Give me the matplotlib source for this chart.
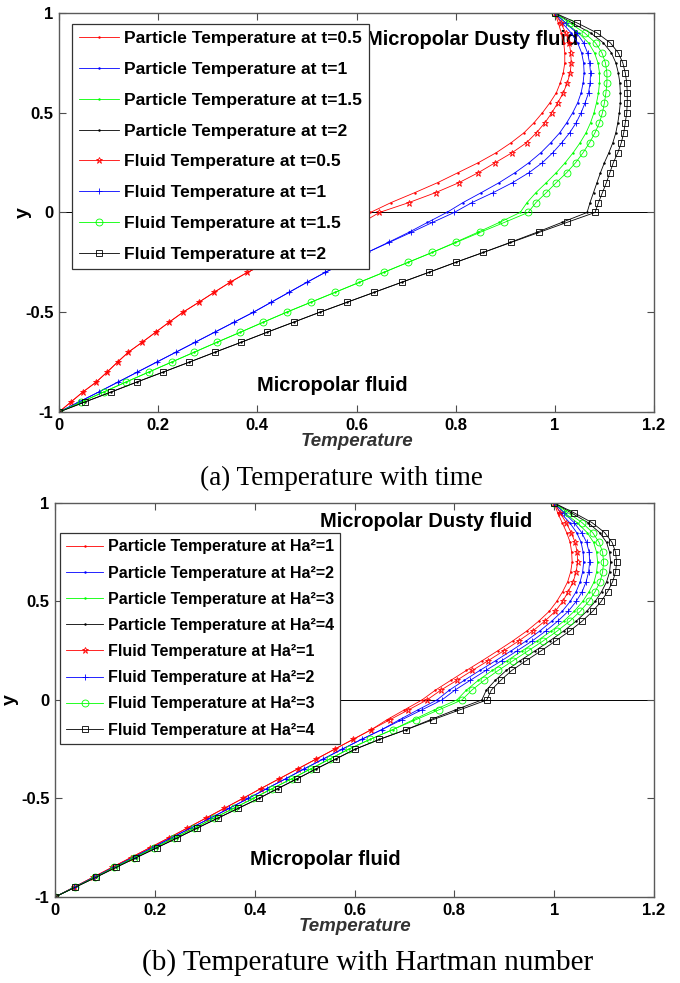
# temperature profiles in the micropolar / micropolar dusty fluid channel
import matplotlib
matplotlib.use('Agg')
import matplotlib.pyplot as plt

# y positions where the temperatures were read (same grid for every curve)
y_pos = [-1.0, -0.95, -0.9, -0.85, -0.8, -0.75, -0.7, -0.65, -0.6, -0.55,
         -0.5, -0.45, -0.4, -0.35, -0.3, -0.25, -0.2, -0.15, -0.1, -0.05,
         0.0, 0.05, 0.1, 0.15, 0.2, 0.25, 0.3, 0.35, 0.4, 0.45,
         0.5, 0.55, 0.6, 0.65, 0.7, 0.75, 0.8, 0.85, 0.9, 0.95, 1.0]

# (a) temperature with time
time_labels = ['0.5', '1', '1.5', '2']
fluid_t05 = [0, 0.024, 0.048, 0.075, 0.097, 0.118, 0.140, 0.168, 0.195, 0.222,
             0.250, 0.282, 0.313, 0.345, 0.380, 0.422, 0.468, 0.518, 0.568, 0.612,
             0.646, 0.706, 0.760, 0.807, 0.846, 0.880, 0.914, 0.943, 0.963, 0.980,
             0.994, 1.006, 1.017, 1.025, 1.031, 1.033, 1.032, 1.029, 1.022, 1.012, 1.000]
fluid_t1 = [0, 0.040, 0.080, 0.119, 0.158, 0.197, 0.236, 0.275, 0.314, 0.353,
            0.392, 0.428, 0.464, 0.500, 0.537, 0.578, 0.622, 0.666, 0.710, 0.753,
            0.797, 0.833, 0.876, 0.915, 0.948, 0.975, 0.996, 1.014, 1.030, 1.043,
            1.053, 1.061, 1.068, 1.071, 1.072, 1.070, 1.066, 1.058, 1.044, 1.022, 1.000]
fluid_t15 = [0, 0.045, 0.090, 0.135, 0.181, 0.227, 0.273, 0.319, 0.366, 0.412,
             0.459, 0.508, 0.557, 0.606, 0.655, 0.704, 0.753, 0.801, 0.849, 0.898,
             0.946, 0.962, 0.983, 1.003, 1.024, 1.042, 1.057, 1.070, 1.081, 1.090,
             1.096, 1.100, 1.103, 1.105, 1.105, 1.102, 1.095, 1.082, 1.060, 1.030, 1.000]
fluid_t2 = [0, 0.052, 0.105, 0.157, 0.210, 0.263, 0.315, 0.368, 0.420, 0.473,
            0.526, 0.581, 0.636, 0.691, 0.746, 0.800, 0.856, 0.912, 0.968, 1.024,
            1.081, 1.088, 1.096, 1.104, 1.111, 1.118, 1.127, 1.134, 1.139, 1.142,
            1.145, 1.146, 1.146, 1.145, 1.142, 1.137, 1.128, 1.112, 1.085, 1.045, 1.000]
particle_t05 = [0, 0.024, 0.048, 0.075, 0.097, 0.118, 0.140, 0.168, 0.195, 0.222,
                0.250, 0.282, 0.313, 0.345, 0.380, 0.422, 0.468, 0.516, 0.563, 0.602,
                0.628, 0.670, 0.718, 0.764, 0.805, 0.846, 0.882, 0.912, 0.938, 0.958,
                0.975, 0.990, 1.003, 1.011, 1.017, 1.020, 1.020, 1.018, 1.013, 1.007, 1.000]
particle_t1 = [0, 0.040, 0.080, 0.119, 0.158, 0.197, 0.236, 0.275, 0.314, 0.353,
               0.392, 0.428, 0.464, 0.500, 0.537, 0.578, 0.622, 0.664, 0.705, 0.743,
               0.782, 0.815, 0.852, 0.888, 0.920, 0.948, 0.972, 0.992, 1.010, 1.024,
               1.036, 1.046, 1.053, 1.057, 1.059, 1.058, 1.054, 1.046, 1.033, 1.015, 1.000]
particle_t15 = [0, 0.045, 0.090, 0.135, 0.181, 0.227, 0.273, 0.319, 0.366, 0.412,
                0.459, 0.508, 0.557, 0.606, 0.655, 0.704, 0.753, 0.799, 0.844, 0.888,
                0.930, 0.944, 0.962, 0.983, 1.003, 1.021, 1.037, 1.051, 1.063, 1.072,
                1.079, 1.084, 1.088, 1.090, 1.090, 1.087, 1.080, 1.068, 1.048, 1.022, 1.000]
particle_t2 = [0, 0.052, 0.105, 0.157, 0.210, 0.263, 0.315, 0.368, 0.420, 0.473,
               0.526, 0.581, 0.636, 0.691, 0.746, 0.800, 0.856, 0.910, 0.963, 1.014,
               1.065, 1.071, 1.078, 1.085, 1.092, 1.100, 1.109, 1.117, 1.123, 1.127,
               1.130, 1.132, 1.132, 1.131, 1.128, 1.123, 1.114, 1.098, 1.072, 1.035, 1.000]

# (b) temperature with Hartmann number
ha_labels = ['1', '2', '3', '4']
fluid_ha1 = [0, 0.038, 0.076, 0.114, 0.152, 0.190, 0.228, 0.265, 0.302, 0.339,
             0.376, 0.412, 0.449, 0.486, 0.523, 0.560, 0.597, 0.634, 0.671, 0.708,
             0.745, 0.773, 0.805, 0.836, 0.868, 0.899, 0.929, 0.957, 0.981, 1.002,
             1.017, 1.028, 1.038, 1.044, 1.047, 1.046, 1.042, 1.034, 1.024, 1.012, 1.000]
fluid_ha2 = [0, 0.039, 0.078, 0.117, 0.156, 0.195, 0.233, 0.272, 0.311, 0.349,
             0.387, 0.424, 0.462, 0.499, 0.537, 0.575, 0.614, 0.655, 0.695, 0.735,
             0.775, 0.801, 0.832, 0.863, 0.895, 0.926, 0.956, 0.983, 1.007, 1.028,
             1.044, 1.056, 1.064, 1.069, 1.071, 1.070, 1.065, 1.055, 1.040, 1.020, 1.000]
fluid_ha3 = [0, 0.040, 0.080, 0.119, 0.159, 0.199, 0.239, 0.279, 0.318, 0.358,
             0.397, 0.435, 0.474, 0.512, 0.550, 0.588, 0.631, 0.677, 0.723, 0.769,
             0.815, 0.835, 0.860, 0.888, 0.918, 0.948, 0.978, 1.006, 1.031, 1.052,
             1.069, 1.082, 1.092, 1.097, 1.099, 1.097, 1.090, 1.077, 1.056, 1.028, 1.000]
fluid_ha4 = [0, 0.041, 0.082, 0.122, 0.163, 0.204, 0.245, 0.285, 0.326, 0.367,
             0.408, 0.446, 0.485, 0.523, 0.562, 0.601, 0.650, 0.704, 0.757, 0.811,
             0.865, 0.874, 0.893, 0.915, 0.944, 0.974, 1.003, 1.031, 1.056, 1.077,
             1.094, 1.107, 1.117, 1.123, 1.125, 1.123, 1.116, 1.101, 1.076, 1.040, 1.000]
particle_ha1 = [0, 0.038, 0.076, 0.114, 0.152, 0.190, 0.228, 0.265, 0.302, 0.339,
                0.376, 0.412, 0.449, 0.486, 0.523, 0.560, 0.597, 0.634, 0.665, 0.700,
                0.735, 0.762, 0.793, 0.824, 0.856, 0.887, 0.917, 0.945, 0.969, 0.990,
                1.005, 1.017, 1.027, 1.033, 1.036, 1.035, 1.032, 1.025, 1.016, 1.007, 1.000]
particle_ha2 = [0, 0.039, 0.078, 0.117, 0.156, 0.195, 0.233, 0.272, 0.311, 0.349,
                0.387, 0.424, 0.462, 0.499, 0.537, 0.575, 0.614, 0.655, 0.690, 0.727,
                0.765, 0.790, 0.820, 0.851, 0.883, 0.914, 0.944, 0.971, 0.995, 1.016,
                1.032, 1.044, 1.052, 1.057, 1.059, 1.058, 1.054, 1.045, 1.031, 1.013, 1.000]
particle_ha3 = [0, 0.040, 0.080, 0.119, 0.159, 0.199, 0.239, 0.279, 0.318, 0.358,
                0.397, 0.435, 0.474, 0.512, 0.550, 0.588, 0.631, 0.677, 0.718, 0.760,
                0.805, 0.824, 0.848, 0.876, 0.906, 0.936, 0.966, 0.994, 1.019, 1.040,
                1.057, 1.070, 1.080, 1.085, 1.087, 1.085, 1.079, 1.066, 1.046, 1.021, 1.000]
particle_ha4 = [0, 0.041, 0.082, 0.122, 0.163, 0.204, 0.245, 0.285, 0.326, 0.367,
                0.408, 0.446, 0.485, 0.523, 0.562, 0.601, 0.650, 0.704, 0.752, 0.802,
                0.855, 0.864, 0.882, 0.904, 0.932, 0.962, 0.991, 1.019, 1.044, 1.065,
                1.082, 1.095, 1.105, 1.111, 1.113, 1.111, 1.105, 1.091, 1.068, 1.034, 1.000]

interface_y = 0.0

colors = ['r', 'b', (0, 1, 0), 'k']
fluid_markers = ['*', '+', 'o', 's']

plt.rcParams['font.family'] = ['Liberation Sans', 'DejaVu Sans']
plt.rcParams['font.weight'] = 'bold'

fig = plt.figure(figsize=(6.8, 9.83), dpi=100)
ax_a = fig.add_axes([0.0868, 0.5809, 0.8750, 0.4059])
ax_b = fig.add_axes([0.0809, 0.0875, 0.8809, 0.4008])


def draw_panel(ax, particles, fluids, label_fmt, tags, leg_anchor, leg_size, leg_space, ylab_x):
    # particle curves first, then fluid curves (legend order)
    for i in range(4):
        ax.plot(particles[i], y_pos, color=colors[i], lw=0.6, marker='.',
                markersize=1.5, label='Particle Temperature at ' + label_fmt % tags[i])
    for i in range(4):
        ax.plot(fluids[i], y_pos, color=colors[i], lw=0.6, marker=fluid_markers[i],
                markersize=5, markeredgewidth=0.6, markerfacecolor='none',
                label='Fluid Temperature at ' + label_fmt % tags[i])
    ax.axhline(interface_y, color='k', lw=0.7, zorder=1)
    ax.set_xlim(0, 1.2)
    ax.set_ylim(-1, 1)
    ax.set_xticks([0, 0.2, 0.4, 0.6, 0.8, 1.0, 1.2])
    ax.set_xticklabels(['0', '0.2', '0.4', '0.6', '0.8', '1', '1.2'])
    ax.set_yticks([-1, -0.5, 0, 0.5, 1])
    ax.set_yticklabels(['-1', '-0.5', '0', '0.5', '1'])
    ax.tick_params(direction='in', length=5, width=0.8, top=True, right=True,
                   labelsize=12, color='#4d4d4d', pad=4)
    for lab in ax.get_xticklabels() + ax.get_yticklabels():
        lab.set_fontweight('bold')
    for sp in ax.spines.values():
        sp.set_color('#5a5a5a')
        sp.set_linewidth(1.0)
    ax.set_xlabel('Temperature', fontsize=13.5, fontweight='bold', style='italic',
                  color='#333333', labelpad=0)
    ax.set_ylabel('y', fontsize=14, fontweight='bold')
    ax.yaxis.set_label_coords(ylab_x, 0.5)
    leg = ax.legend(loc='upper left', bbox_to_anchor=leg_anchor, borderaxespad=0,
                    fancybox=False, framealpha=1, edgecolor='#333333',
                    prop={'size': leg_size, 'weight': 'bold'}, labelspacing=leg_space,
                    handlelength=2.3, handletextpad=0.3, borderpad=0.4)
    leg.get_frame().set_linewidth(0.9)


draw_panel(ax_a,
           [particle_t05, particle_t1, particle_t15, particle_t2],
           [fluid_t05, fluid_t1, fluid_t15, fluid_t2],
           't=%s', time_labels, (0.022, 0.972), 12.5, 0.9, -0.045)
ax_a.text(0.62, 0.865, 'Micropolar Dusty fluid', fontsize=14.5, fontweight='bold',
          ha='left', va='center', zorder=1)
ax_a.text(0.40, -0.867, 'Micropolar fluid', fontsize=14.5, fontweight='bold',
          ha='left', va='center', zorder=1)

draw_panel(ax_b,
           [particle_ha1, particle_ha2, particle_ha3, particle_ha4],
           [fluid_ha1, fluid_ha2, fluid_ha3, fluid_ha4],
           'Ha\u00b2=%s', ha_labels, (0.008, 0.924), 11.5, 0.7, -0.06)
ax_b.text(0.53, 0.905, 'Micropolar Dusty fluid', fontsize=14.5, fontweight='bold',
          ha='left', va='center', zorder=1)
ax_b.text(0.39, -0.81, 'Micropolar fluid', fontsize=14.5, fontweight='bold',
          ha='left', va='center', zorder=1)

fig.text(341 / 680, 1 - 478 / 983, '(a) Temperature with time', fontsize=19.5,
         family='Liberation Serif', fontweight='normal', ha='center', va='center')
fig.text(368 / 680, 1 - 963 / 983, '(b) Temperature with Hartman number', fontsize=21,
         family='Liberation Serif', fontweight='normal', ha='center', va='center')

fig.savefig('out.png', dpi=100, facecolor='white')
